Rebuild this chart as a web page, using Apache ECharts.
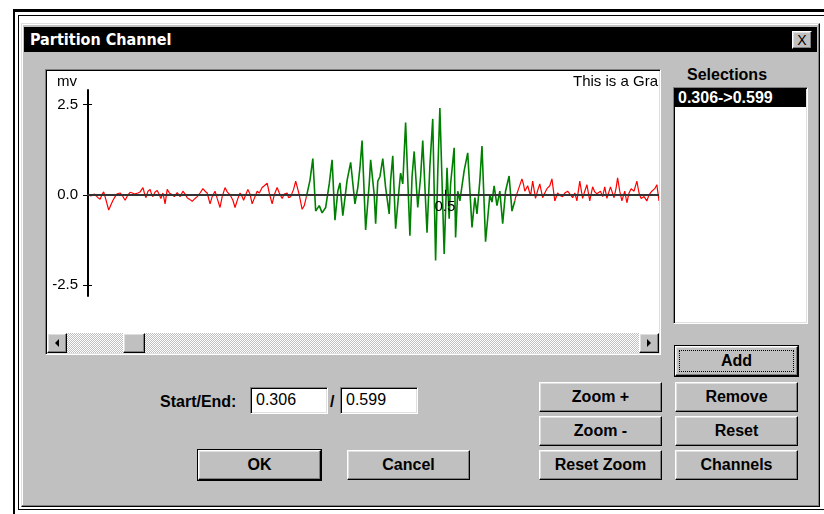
<!DOCTYPE html>
<html>
<head>
<meta charset="utf-8">
<script src="https://cdn.jsdelivr.net/npm/echarts@6/dist/echarts.min.js"></script>
<style>
  html,body{margin:0;padding:0;background:#fff;width:824px;height:514px;overflow:hidden;}
  .abs{position:absolute;box-sizing:border-box;}
  .ui{font-family:"Liberation Sans",Arial,sans-serif;font-weight:bold;font-size:15px;color:#000;}
  .btn{position:absolute;box-sizing:border-box;background:#c0c0c0;
       border-top:1px solid #fff;border-left:1px solid #fff;border-right:1px solid #000;border-bottom:1px solid #000;
       box-shadow:inset -1px -1px #808080, inset 1px 1px #dfdfdf;
       display:flex;align-items:center;justify-content:center;}
  .big{font-size:16px;}
  .def{outline:1px solid #000;}
  .sunken{position:absolute;box-sizing:border-box;background:#fff;
       border-top:1px solid #808080;border-left:1px solid #808080;border-right:1px solid #fff;border-bottom:1px solid #fff;
       box-shadow:inset 1px 1px #000, inset -1px -1px #dfdfdf;}
</style>
</head>
<body>
<div class="abs" style="left:13px;top:9px;width:840px;height:530px;border:2px solid #000;border-top-width:3px;"></div>
<div class="abs" style="left:18px;top:15px;width:830px;height:495px;border:1px solid #000;"></div>
<div class="abs" style="left:21px;top:23px;width:799px;height:484px;background:#c0c0c0;border-top:1px solid #dfdfdf;border-left:1px solid #dfdfdf;border-right:1px solid #000;border-bottom:1px solid #000;box-shadow:inset -1px -1px #808080, inset 1px 1px #fff;"></div>
<div class="abs" style="left:24px;top:27px;width:793px;height:25px;background:#000;"></div>
<div class="abs ui" id="ttl" style="left:30px;top:29px;color:#fff;font-family:'Liberation Sans Narrow','DejaVu Sans Condensed',sans-serif;font-size:16px;line-height:21px;"></div>
<div class="btn ui" style="left:792px;top:31px;width:20px;height:18px;font-size:14px;font-weight:normal;">X</div>

<div class="sunken" style="left:45px;top:69px;width:616px;height:286px;"></div>
<div id="chart" class="abs" style="left:47px;top:71px;width:612px;height:262px;"></div>
<div class="abs" style="left:47px;top:333px;width:612px;height:20px;background:repeating-conic-gradient(#c0c0c0 0 25%,#fff 0 50%) 0 0/2px 2px;"></div>
<div class="btn" style="left:47px;top:333px;width:20px;height:20px;"><div style="width:0;height:0;border-top:4px solid transparent;border-bottom:4px solid transparent;border-right:4px solid #000;"></div></div>
<div class="btn" style="left:123px;top:333px;width:22px;height:20px;"></div>
<div class="btn" style="left:639px;top:333px;width:20px;height:20px;"><div style="width:0;height:0;border-top:4px solid transparent;border-bottom:4px solid transparent;border-left:4px solid #000;"></div></div>

<div class="abs ui big" id="selLbl" style="left:687px;top:66px;line-height:18px;"></div>
<div class="sunken" style="left:673px;top:87px;width:135px;height:237px;"></div>
<div class="abs ui big" id="selList" style="left:675px;top:89px;width:131px;"></div>

<div class="abs ui big" id="seLbl" style="left:160px;top:393px;line-height:18px;"></div>
<div class="sunken ui" id="startBox" style="left:250px;top:387px;width:78px;height:27px;font-weight:normal;font-size:16px;padding:3px 0 0 5px;"></div>
<div class="abs ui big" style="left:330px;top:393px;line-height:18px;">/</div>
<div class="sunken ui" id="endBox" style="left:340px;top:387px;width:78px;height:27px;font-weight:normal;font-size:16px;padding:3px 0 0 5px;"></div>

<div id="buttons"></div>

<script>
// ---- data ----
const red1T = [0.000,0.004,0.006,0.009,0.011,0.014,0.017,0.020,0.022,0.026,0.029,0.032,0.035,0.038,0.041,0.045,0.048,0.052,0.056,0.059,0.062,0.065,0.067,0.070,0.073,0.077,0.079,0.081,0.084,0.087,0.089,0.091,0.094,0.097,0.100,0.102,0.105,0.108,0.111,0.114,0.118,0.121,0.125,0.127,0.129,0.133,0.136,0.139,0.142,0.146,0.150,0.153,0.157,0.161,0.164,0.167,0.171,0.174,0.178,0.181,0.185,0.188,0.192,0.195,0.199,0.203,0.206,0.210,0.213,0.216,0.218,0.221,0.224,0.227,0.230,0.234,0.237,0.240,0.244,0.247,0.251,0.254,0.258,0.261,0.265,0.268,0.272,0.275,0.279,0.281,0.284,0.288,0.291,0.294,0.296,0.300,0.303,0.306];
const red1V = [0.00,-0.03,-0.06,0.02,0.03,-0.08,-0.12,0.02,0.08,-0.20,-0.42,-0.28,-0.15,-0.05,0.03,0.05,-0.02,-0.15,0.00,0.07,0.05,0.02,0.04,0.05,0.08,0.20,0.05,-0.08,0.10,0.15,0.02,-0.05,0.08,0.12,0.00,-0.10,0.05,-0.25,0.15,0.05,0.00,-0.05,0.06,0.10,-0.05,0.10,0.02,-0.08,-0.12,-0.18,-0.10,-0.05,0.05,0.17,0.10,0.05,-0.25,-0.05,0.10,-0.10,-0.35,-0.05,0.20,0.08,0.00,-0.15,-0.35,-0.10,0.05,-0.05,-0.15,0.00,0.15,0.02,-0.25,-0.05,0.10,0.05,0.20,0.25,0.32,0.05,-0.25,0.00,0.20,0.05,-0.10,0.02,0.05,-0.08,-0.05,0.15,0.38,0.15,0.00,-0.40,-0.30,-0.05];
const greenT = [0.307,0.311,0.315,0.319,0.324,0.328,0.333,0.338,0.342,0.346,0.350,0.353,0.357,0.363,0.368,0.374,0.378,0.381,0.384,0.389,0.394,0.396,0.401,0.403,0.406,0.409,0.413,0.417,0.422,0.424,0.427,0.431,0.436,0.438,0.441,0.445,0.451,0.454,0.457,0.462,0.466,0.469,0.475,0.479,0.483,0.487,0.490,0.493,0.499,0.503,0.506,0.508,0.513,0.515,0.518,0.521,0.527,0.532,0.538,0.542,0.545,0.549,0.552,0.557,0.563,0.566,0.569,0.573,0.577,0.581,0.585,0.590,0.594,0.598];
const greenV = [0.00,0.40,1.00,-0.45,-0.30,-0.50,-0.35,0.30,0.97,-0.70,0.10,0.33,-0.58,0.40,0.90,-0.25,0.20,0.75,1.50,-0.97,0.30,0.97,0.00,-0.80,0.38,0.50,1.00,0.20,-0.53,0.40,1.08,-0.94,0.20,0.60,0.30,2.00,-1.13,0.50,1.20,-0.35,0.50,1.50,-1.05,0.80,2.10,-1.82,0.60,2.40,-1.64,0.75,-0.66,0.30,1.30,-1.18,0.10,-0.17,0.66,1.16,-0.90,-0.08,-0.53,0.40,1.35,-1.30,0.00,-0.20,0.25,-0.30,0.10,-0.80,0.10,0.52,-0.45,-0.17];
const red2T = [0.599,0.603,0.608,0.610,0.612,0.616,0.620,0.623,0.627,0.630,0.633,0.637,0.640,0.643,0.647,0.650,0.654,0.658,0.661,0.665,0.668,0.672,0.676,0.679,0.682,0.685,0.689,0.693,0.696,0.699,0.703,0.707,0.710,0.713,0.718,0.721,0.724,0.727,0.732,0.737,0.740,0.742,0.745,0.748,0.752,0.755,0.758,0.761,0.765,0.769,0.772,0.775,0.779,0.783,0.786,0.790,0.794,0.797,0.800];
const red2V = [-0.08,0.15,0.44,0.30,0.10,0.25,-0.03,0.38,-0.10,0.12,0.30,-0.08,0.05,0.17,0.25,0.44,-0.17,0.05,-0.02,-0.05,0.05,0.10,0.00,-0.08,0.05,-0.17,0.38,-0.10,0.10,0.28,-0.17,0.22,0.08,0.03,0.10,-0.05,0.22,-0.10,0.22,-0.08,0.20,0.47,0.10,-0.17,0.10,-0.22,0.05,0.17,0.10,0.38,0.05,-0.10,-0.05,-0.17,0.00,0.10,0.17,0.28,-0.17];
const yTickValues = [-2.5, 0, 2.5];
const xTickValues = [0.5];
const yAxisName = 'mv';
const chartTitle = 'This is a Graph';
const dialogTitle = 'Partition Channel';
const selections = ['0.306->0.599'];
const startValue = '0.306';
const endValue = '0.599';

// ---- dialog texts ----
document.getElementById('ttl').textContent = dialogTitle;
document.getElementById('selLbl').textContent = 'Selections';
document.getElementById('seLbl').textContent = 'Start/End:';
document.getElementById('startBox').textContent = startValue;
document.getElementById('endBox').textContent = endValue;
const list = document.getElementById('selList');
selections.forEach((s, i) => {
  const d = document.createElement('div');
  d.textContent = s;
  d.style.cssText = 'height:18px;line-height:18px;padding-left:3px;' + (i === 0 ? 'background:#000;color:#fff;' : '');
  list.appendChild(d);
});
const btns = [
  ['Add', 675, 346, true, true], ['Remove', 675, 382], ['Reset', 675, 416], ['Channels', 675, 450],
  ['Zoom +', 539, 382], ['Zoom -', 539, 416], ['Reset Zoom', 539, 450],
  ['OK', 198, 450, true], ['Cancel', 347, 450]
];
const bc = document.getElementById('buttons');
btns.forEach(([t, x, y, def, focus]) => {
  const b = document.createElement('div');
  b.className = 'btn ui big' + (def ? ' def' : '');
  b.style.left = x + 'px'; b.style.top = y + 'px'; b.style.width = '123px'; b.style.height = '30px';
  const s = document.createElement('span');
  s.textContent = t;
  b.appendChild(s);
  if (focus) {
    const f = document.createElement('div');
    f.style.cssText = 'position:absolute;left:3px;top:3px;right:3px;bottom:3px;border:1px dotted #000;';
    b.appendChild(f);
  }
  bc.appendChild(b);
});

// ---- chart ----
const zip = (t, v) => t.map((x, i) => [x, v[i]]);
const red1 = zip(red1T, red1V);
const green = [red1[red1.length - 1]].concat(zip(greenT, greenV));
const red2 = [green[green.length - 1]].concat(zip(red2T, red2V));
const font = '"Liberation Sans", Arial, sans-serif';
const yMin = -2.8, yMax = 2.9, gridTop = 19, gridH = 206;

const chart = echarts.init(document.getElementById('chart'), null, {renderer: 'canvas'});
chart.setOption({
  animation: false,
  backgroundColor: '#fff',
  grid: {left: 41, right: 0, top: gridTop, height: gridH},
  xAxis: {
    type: 'value', min: 0, max: 0.8, z: 5, position: 'bottom',
    // place the axis on the zero line of the value axis
    offset: -(gridH * (0 - yMin) / (yMax - yMin)),
    axisLine: {onZero: false, lineStyle: {color: '#333', width: 2}},
    axisTick: {show: true, inside: true, length: 5, lineStyle: {color: '#000', width: 1}, customValues: xTickValues},
    axisLabel: {show: true, customValues: xTickValues, color: '#000', fontSize: 15, fontFamily: font, margin: 5,
                formatter: v => v.toFixed(1)},
    splitLine: {show: false}
  },
  yAxis: [{
    type: 'value', min: yMin, max: yMax,
    axisLine: {show: true, lineStyle: {color: '#000', width: 2}},
    axisTick: {show: true, length: 5, lineStyle: {color: '#000', width: 1}, customValues: yTickValues},
    axisLabel: {customValues: yTickValues, color: '#000', fontSize: 15, fontFamily: font, margin: 10,
                formatter: v => v.toFixed(1)},
    splitLine: {show: false}
  }, {
    type: 'value', min: yMin, max: yMax, position: 'left',
    axisLine: {show: false},
    axisTick: {show: true, inside: true, length: 4, lineStyle: {color: '#000', width: 1}, customValues: yTickValues},
    axisLabel: {show: false},
    splitLine: {show: false}
  }],
  graphic: [
    {type: 'text', left: 10, top: 3, style: {text: yAxisName, font: '15px ' + font, fill: '#000'}},
    {type: 'text', left: 526, top: 3, style: {text: chartTitle, font: '15px ' + font, fill: '#000'}}
  ],
  series: [
    {type: 'line', data: red1, showSymbol: false, lineStyle: {color: '#ff0000', width: 1.2}, z: 2},
    {type: 'line', data: green, showSymbol: false, lineStyle: {color: '#008000', width: 1.6}, z: 2},
    {type: 'line', data: red2, showSymbol: false, lineStyle: {color: '#ff0000', width: 1.2}, z: 2}
  ]
});
</script>
</body>
</html>
